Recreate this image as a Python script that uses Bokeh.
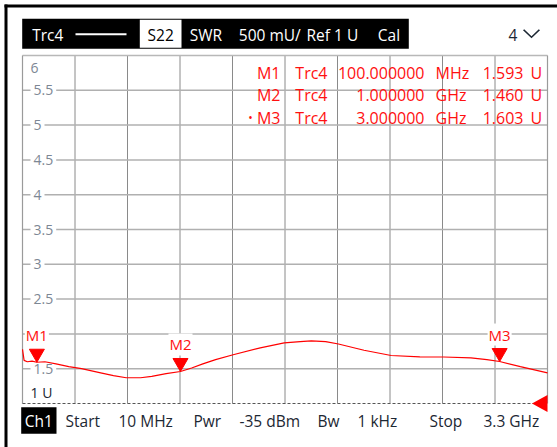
import math
from bokeh.plotting import figure
from bokeh.models import ColumnDataSource, Range1d
from bokeh.embed import file_html
from bokeh.resources import INLINE
from bokeh.core.properties import value

# ---------------- data ----------------
start_ghz = 0.01
stop_ghz = 3.3
swr_bottom = 1.0
swr_top = 6.0
n_xdiv = 10

freq_ghz = [0.010, 0.020, 0.040, 0.070, 0.100, 0.150, 0.220, 0.300, 0.380, 0.500,
            0.580, 0.660, 0.750, 0.820, 0.910, 1.000, 1.070, 1.140, 1.220, 1.330,
            1.500, 1.650, 1.750, 1.820, 1.910, 1.990, 2.150, 2.320, 2.500, 2.650,
            2.820, 2.920, 3.000, 3.130, 3.300]
swr = [1.780, 1.620, 1.600, 1.610, 1.593, 1.600, 1.570, 1.530, 1.500, 1.440,
       1.400, 1.370, 1.370, 1.390, 1.430, 1.460, 1.510, 1.570, 1.630, 1.700,
       1.800, 1.870, 1.890, 1.900, 1.890, 1.855, 1.765, 1.690, 1.670, 1.668,
       1.655, 1.630, 1.603, 1.530, 1.440]

marker_names = ["M1", "M2", "M3"]
marker_freq_ghz = [0.1, 1.0, 3.0]
marker_swr = [1.593, 1.460, 1.603]
marker_trace = ["Trc4", "Trc4", "Trc4"]
active_marker = "M3"

ytick_values = [6, 5.5, 5, 4.5, 4, 3.5, 3, 2.5, 2, 1.5]
ytick_labels = ["6", "5.5", "5", "4.5", "4", "3.5", "3", "2.5", "2", "1.5"]
ref_label = "1 U"

header_trace = "Trc4"
header_param = "S22"
header_format = "SWR"
header_scale = "500 mU/"
header_ref = "Ref 1 U"
header_cal = "Cal"
header_window = "4"
footer_channel = "Ch1"
footer_items = [("Start", 65), ("10 MHz", 118), ("Pwr", 193), ("-35 dBm", 239),
                ("Bw", 317), ("1 kHz", 357), ("Stop", 429), ("3.3 GHz", 483)]

# ---------------- layout ----------------
W, H = 557, 447          # canvas size
OX, OY = 0, 0            # page position of canvas
L, R, T, B = 22, 547, 55, 403   # plot area (page px)
FONT = value("Open Sans")
RED = "#ff1010"
DARK = "#1c2733"


def dx(px):
    return start_ghz + (px - L) / (R - L) * (stop_ghz - start_ghz)


def dy(py):
    return swr_top - (py - T) / (B - T) * (swr_top - swr_bottom)


px_per_unit = (B - T) / (swr_top - swr_bottom)

p = figure(width=W, height=H,
           x_range=Range1d(dx(OX), dx(OX + W)), y_range=Range1d(dy(OY + H), dy(OY)),
           output_backend="svg", toolbar_location=None,
           x_axis_location=None, y_axis_location=None,
           min_border=0, min_border_left=0, min_border_right=0, min_border_top=0, min_border_bottom=0)
p.outline_line_color = None
p.grid.visible = False
p.background_fill_color = "white"
p.border_fill_color = "white"

# outer black frame
p.quad(left=[dx(4), dx(4)], right=[dx(7), dx(W + 10)], top=[dy(4), dy(4)], bottom=[dy(H + 10), dy(7)],
       fill_color="black", line_color=None)

# grids
xdivs = [start_ghz + k * (stop_ghz - start_ghz) / n_xdiv for k in range(1, n_xdiv)]
p.segment(x0=xdivs, y0=[swr_bottom] * len(xdivs), x1=xdivs, y1=[swr_top] * len(xdivs),
          line_color="#8a8a8a", line_width=1)
hgrid = ytick_values[1:]
p.segment(x0=[start_ghz] * len(hgrid), y0=hgrid, x1=[stop_ghz] * len(hgrid), y1=hgrid,
          line_color="#b0b0b0", line_width=1.5)

# frame lines
p.segment(x0=[start_ghz], y0=[swr_top], x1=[stop_ghz], y1=[swr_top], line_color="#b8b8b8", line_width=1.5)
p.segment(x0=[start_ghz, stop_ghz], y0=[swr_bottom, swr_bottom], x1=[start_ghz, stop_ghz],
          y1=[swr_top, swr_top], line_color="#9a9a9a", line_width=1.2)
p.segment(x0=[start_ghz], y0=[swr_bottom], x1=[stop_ghz], y1=[swr_bottom], line_color="#555555",
          line_width=1, line_dash="3 2")

# y labels
ysrc = ColumnDataSource(dict(y=hgrid, t=ytick_labels[1:]))
p.text(x=start_ghz, y="y", text="t", source=ysrc, x_offset=8, text_baseline="middle",
       text_align="left", text_font=FONT, text_font_size="14px", text_color="#7d8794",
       background_fill_color="white", padding=3)
p.text(x=[start_ghz], y=[ytick_values[0]], text=[ytick_labels[0]], x_offset=8, y_offset=12,
       text_baseline="middle", text_align="left", text_font=FONT, text_font_size="14px",
       text_color="#7d8794")
p.text(x=[start_ghz], y=[swr_bottom], text=[ref_label], x_offset=8, y_offset=-11,
       text_baseline="middle", text_align="left", text_font=FONT, text_font_size="14px",
       text_color=DARK)

# trace
p.line(freq_ghz, swr, line_color="#ff0000", line_width=1.2)

# markers
tri_size = 15
tip_off = (tri_size / 2) * math.sqrt(3) * 2 / 3
p.scatter(marker_freq_ghz, [v + tip_off / px_per_unit for v in marker_swr],
          marker="inverted_triangle", size=tri_size, fill_color="#ff0000", line_color="#ff0000")
p.text(marker_freq_ghz, marker_swr, text=marker_names, y_offset=-27, text_align="center",
       text_baseline="middle", text_font=FONT, text_font_size="15px", text_color=RED,
       background_fill_color="white", padding=1)

# marker table
row_y = [72, 94.5, 117]


def freq_str(fg):
    if fg < 1:
        return "%.6f" % (fg * 1000), "MHz"
    return "%.6f" % fg, "GHz"


tbl_names, tbl_trc, tbl_num, tbl_unit, tbl_val, ys = [], [], [], [], [], []
for i, nm in enumerate(marker_names):
    num, unit = freq_str(marker_freq_ghz[i])
    tbl_names.append(nm)
    tbl_trc.append(marker_trace[i])
    tbl_num.append(num)
    tbl_unit.append(unit)
    tbl_val.append("%.3f" % marker_swr[i])
    ys.append(dy(row_y[i]))

cols = [(tbl_names, 280, "right"), (tbl_trc, 327, "right"), (tbl_num, 424, "right"),
        (tbl_unit, 435, "left"), (tbl_val, 523, "right"), (["U"] * 3, 530, "left")]
for texts, xpx, align in cols:
    p.text([dx(xpx)] * len(texts), ys, text=texts, text_align=align, text_baseline="middle",
           text_font=FONT, text_font_size="16px", text_color=RED)
ai = marker_names.index(active_marker)
p.text([dx(250)], [dy(row_y[ai])], text=["•"], text_align="center", text_baseline="middle",
       text_font=FONT, text_font_size="12px", text_color=RED)

# reference level arrow at right edge
ah = 8.5
aw = 15.5
p.patch(x=[dx(R - aw), dx(R), dx(R)],
        y=[swr_bottom, swr_bottom + ah / px_per_unit, swr_bottom - ah / px_per_unit],
        fill_color="#ff0000", line_color=None)

# header
p.quad(left=[dx(21.7), dx(139.3)], right=[dx(408.3), dx(181)], top=[dy(18.3), dy(19.3)],
       bottom=[dy(48.3), dy(47.3)], fill_color=["black", "white"], line_color=None)
p.quad(left=[dx(75)], right=[dx(126)], top=[dy(32.7)], bottom=[dy(34.7)], fill_color="white",
       line_color=None)
hdr = [(header_trace, 31.7, "white", "left"), (header_param, 160.2, "black", "center"),
       (header_format, 189.3, "white", "left"), (header_scale, 238.3, "white", "left"),
       (header_ref, 306, "white", "left"), (header_cal, 377.3, "white", "left"),
       (header_window, 508, DARK, "left")]
for txt, xpx, col, align in hdr:
    p.text([dx(xpx)], [dy(34)], text=[txt], text_color=col, text_align=align,
           text_baseline="middle", text_font=FONT, text_font_size="15.5px")
# chevron
cx = [522.5, 531.0, 539.5, 538.3, 531.0, 523.7]
cy = [29.8, 37.8, 29.8, 28.8, 35.8, 28.8]
p.patch(x=[dx(v) for v in cx], y=[dy(v) for v in cy], fill_color=DARK, line_color=None)

# footer
p.quad(left=[dx(20.7)], right=[dx(56)], top=[dy(406.7)], bottom=[dy(433.3)],
       fill_color="black", line_color=None)
p.text([dx(38.3)], [dy(420)], text=[footer_channel], text_color="white", text_align="center",
       text_baseline="middle", text_font=FONT, text_font_size="15.5px")
for txt, xpx in footer_items:
    p.text([dx(xpx)], [dy(420)], text=[txt], text_color=DARK, text_align="left",
           text_baseline="middle", text_font=FONT, text_font_size="15.5px")

open("out.html", "w").write(file_html(p, INLINE))
